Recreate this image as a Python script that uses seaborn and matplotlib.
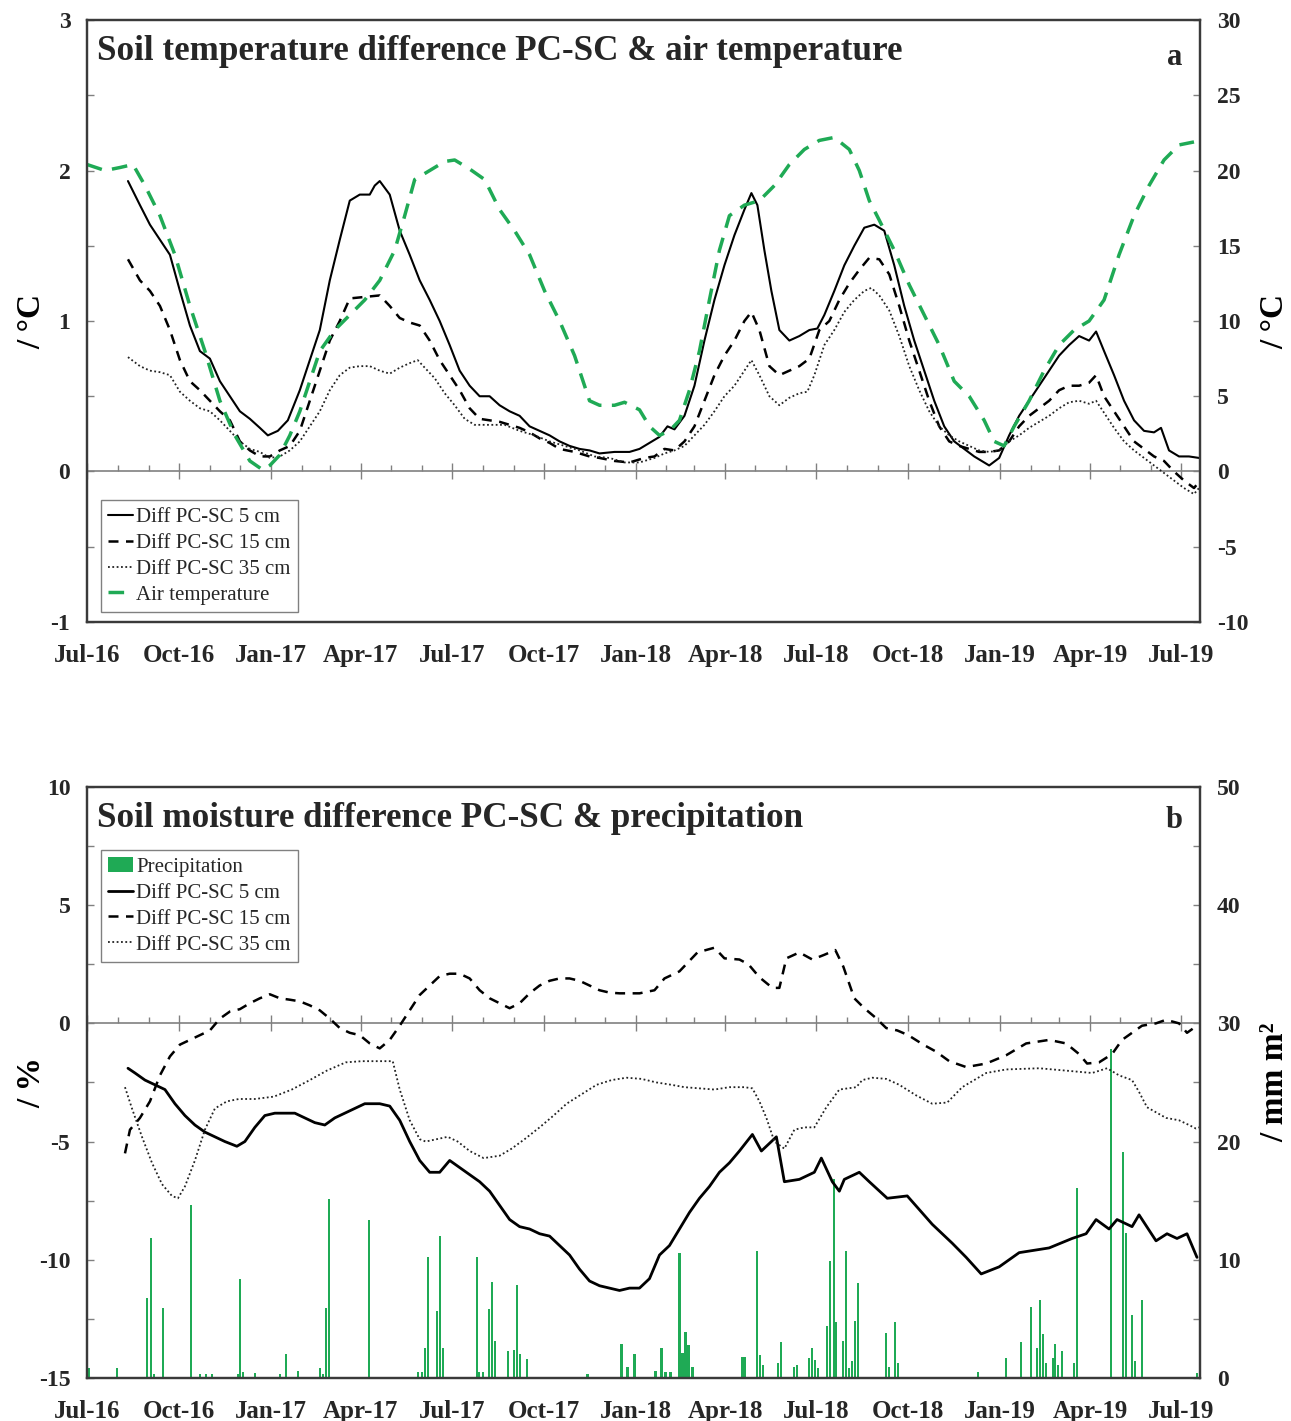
import pandas as pd
import matplotlib
matplotlib.use('Agg')
import matplotlib.pyplot as plt
import matplotlib.dates as mdates
from matplotlib.ticker import MultipleLocator
from matplotlib.patches import Patch
import seaborn as sns

# Data (x values are days since 1 July 2016)
start = pd.Timestamp('2016-07-01')
n_days = 1114

# Panel a: soil temperature differences (left axis, degC) and air temperature (right axis, degC)
air_days = [0, 18, 33, 46, 58, 73, 88, 103, 118, 133, 148, 163, 176, 183, 193, 203, 213, 223, 233, 248,
            263, 278, 293, 308, 318, 328, 343, 358, 368, 383, 398, 413, 428, 443, 458, 473, 488, 503, 513,
            528, 538, 553, 563, 573, 583, 593, 603, 613, 623, 633, 643, 658, 673, 688, 703, 718, 733, 748,
            763, 773, 783, 793, 808, 823, 838, 853, 868, 883, 898, 908, 918, 928, 943, 958, 973, 988, 1003,
            1018, 1033, 1048, 1063, 1078, 1093, 1108]
air_temp = [20.4, 20.0, 20.2, 20.4, 19.0, 17.0, 14.4, 11.0, 8.0, 4.7, 2.4, 0.7, 0.1, 0.4, 1.1, 2.4, 4.0, 6.0,
            8.0, 9.4, 10.4, 11.4, 12.7, 14.7, 17.0, 19.4, 20.0, 20.6, 20.7, 20.1, 19.4, 17.4, 16.0, 14.4, 12.0,
            10.0, 7.7, 4.7, 4.4, 4.4, 4.6, 4.1, 3.0, 2.4, 2.7, 3.4, 5.4, 8.0, 11.4, 14.7, 17.0, 17.7, 18.0,
            19.0, 20.4, 21.4, 22.0, 22.2, 21.4, 20.0, 18.0, 16.7, 14.7, 12.4, 10.4, 8.4, 6.0, 5.0, 3.4, 2.0,
            1.7, 3.0, 4.7, 6.7, 8.4, 9.4, 10.0, 11.4, 14.4, 17.0, 19.0, 20.7, 21.7, 21.9]

t5_days = [41, 53, 63, 73, 83, 93, 103, 113, 123, 133, 143, 153, 163, 173, 181, 191, 201, 213, 223, 233, 243,
           253, 263, 273, 283, 288, 293, 303, 313, 323, 333, 343, 353, 363, 373, 383, 393, 403, 413, 423, 433,
           443, 453, 463, 473, 483, 493, 503, 513, 528, 543, 553, 563, 573, 581, 588, 598, 608, 618, 628, 638,
           648, 658, 665, 671, 678, 685, 693, 703, 713, 723, 731, 738, 748, 758, 768, 778, 788, 798, 808, 818,
           828, 838, 848, 858, 868, 878, 888, 898, 903, 913, 923, 933, 943, 953, 963, 973, 983, 993, 1003,
           1010, 1018, 1028, 1038, 1048, 1058, 1068, 1075, 1083, 1093, 1103, 1113]
t5_diff = [1.93, 1.77, 1.64, 1.54, 1.44, 1.2, 0.97, 0.8, 0.75, 0.6, 0.5, 0.4, 0.35, 0.29, 0.24, 0.27, 0.34,
           0.54, 0.74, 0.94, 1.27, 1.54, 1.8, 1.84, 1.84, 1.9, 1.93, 1.84, 1.6, 1.44, 1.27, 1.14, 1.0, 0.84,
           0.67, 0.57, 0.5, 0.5, 0.44, 0.4, 0.37, 0.3, 0.27, 0.24, 0.2, 0.17, 0.15, 0.14, 0.12, 0.13, 0.13,
           0.15, 0.19, 0.23, 0.3, 0.28, 0.37, 0.57, 0.87, 1.14, 1.37, 1.57, 1.74, 1.85, 1.77, 1.47, 1.2, 0.94,
           0.87, 0.9, 0.94, 0.95, 1.04, 1.2, 1.37, 1.5, 1.62, 1.64, 1.6, 1.37, 1.1, 0.87, 0.67, 0.47, 0.3, 0.2,
           0.15, 0.1, 0.06, 0.04, 0.09, 0.24, 0.37, 0.47, 0.57, 0.67, 0.77, 0.84, 0.9, 0.87, 0.93, 0.8, 0.64,
           0.47, 0.34, 0.27, 0.26, 0.29, 0.14, 0.1, 0.1, 0.09]

t15_days = [41, 53, 63, 73, 83, 93, 103, 113, 123, 133, 143, 153, 163, 173, 183, 193, 203, 213, 223, 233, 243,
            253, 263, 278, 293, 303, 313, 323, 333, 343, 353, 363, 373, 383, 393, 403, 413, 423, 433, 443, 453,
            463, 473, 488, 503, 513, 528, 543, 558, 568, 578, 588, 598, 608, 618, 628, 638, 648, 658, 665, 673,
            683, 693, 703, 713, 723, 733, 743, 753, 763, 773, 783, 793, 803, 813, 823, 833, 843, 853, 863, 873,
            883, 893, 903, 913, 923, 933, 943, 953, 963, 973, 983, 993, 1003, 1010, 1018, 1028, 1038, 1048,
            1058, 1068, 1078, 1088, 1098, 1108, 1113]
t15_diff = [1.41, 1.27, 1.2, 1.1, 0.94, 0.74, 0.6, 0.54, 0.47, 0.4, 0.34, 0.2, 0.14, 0.1, 0.1, 0.14, 0.17,
            0.27, 0.47, 0.67, 0.87, 1.0, 1.15, 1.16, 1.17, 1.1, 1.02, 0.99, 0.97, 0.87, 0.74, 0.64, 0.54, 0.42,
            0.35, 0.34, 0.33, 0.31, 0.29, 0.26, 0.22, 0.19, 0.15, 0.13, 0.1, 0.09, 0.07, 0.06, 0.09, 0.1, 0.15,
            0.14, 0.2, 0.3, 0.47, 0.64, 0.77, 0.87, 1.0, 1.06, 0.94, 0.7, 0.64, 0.67, 0.7, 0.75, 0.94, 1.0, 1.14,
            1.25, 1.34, 1.42, 1.41, 1.31, 1.1, 0.87, 0.67, 0.47, 0.3, 0.2, 0.17, 0.15, 0.13, 0.13, 0.14, 0.2,
            0.3, 0.37, 0.42, 0.47, 0.54, 0.57, 0.57, 0.59, 0.64, 0.5, 0.4, 0.3, 0.2, 0.15, 0.1, 0.07, 0.0,
            -0.06, -0.11, -0.07]

t35_days = [41, 53, 63, 73, 83, 93, 103, 113, 123, 133, 143, 153, 163, 173, 183, 193, 203, 213, 223, 233, 243,
            253, 263, 273, 283, 293, 303, 313, 323, 331, 338, 348, 358, 368, 378, 388, 403, 418, 433, 448, 463,
            478, 493, 508, 523, 538, 553, 568, 578, 588, 598, 608, 618, 628, 638, 648, 658, 665, 673, 683, 693,
            703, 713, 721, 728, 738, 748, 758, 768, 778, 785, 793, 803, 813, 823, 833, 843, 853, 863, 873, 883,
            893, 903, 913, 923, 933, 943, 953, 963, 973, 983, 993, 1003, 1010, 1018, 1028, 1038, 1048, 1058,
            1068, 1078, 1088, 1098, 1108, 1113]
t35_diff = [0.76, 0.7, 0.67, 0.66, 0.64, 0.53, 0.47, 0.42, 0.4, 0.34, 0.27, 0.2, 0.15, 0.13, 0.09, 0.1, 0.14,
            0.2, 0.3, 0.4, 0.54, 0.64, 0.69, 0.7, 0.7, 0.67, 0.65, 0.69, 0.72, 0.74, 0.69, 0.62, 0.52, 0.44,
            0.35, 0.31, 0.31, 0.31, 0.27, 0.24, 0.2, 0.17, 0.14, 0.1, 0.09, 0.06, 0.06, 0.09, 0.12, 0.14, 0.17,
            0.24, 0.31, 0.4, 0.5, 0.57, 0.67, 0.74, 0.64, 0.5, 0.44, 0.49, 0.52, 0.53, 0.64, 0.84, 0.94, 1.06,
            1.14, 1.2, 1.22, 1.17, 1.07, 0.9, 0.7, 0.54, 0.4, 0.3, 0.24, 0.2, 0.17, 0.14, 0.13, 0.14, 0.2, 0.24,
            0.29, 0.33, 0.37, 0.42, 0.46, 0.47, 0.45, 0.47, 0.39, 0.29, 0.2, 0.14, 0.09, 0.04, -0.01, -0.06,
            -0.11, -0.15, -0.11]

# Panel b: soil moisture differences (left axis, %) and precipitation (right axis)
m5_days = [41, 48, 58, 68, 78, 88, 98, 108, 118, 128, 138, 150, 158, 168, 178, 188, 198, 208, 218, 228, 238,
           248, 258, 268, 278, 293, 303, 313, 323, 333, 343, 353, 363, 373, 383, 393, 403, 413, 423, 433, 443,
           453, 463, 473, 483, 493, 503, 513, 523, 533, 543, 553, 563, 573, 583, 593, 603, 613, 623, 633, 643,
           653, 666, 675, 690, 698, 713, 723, 728, 735, 746, 753, 758, 773, 783, 801, 821, 846, 866, 880, 895,
           913, 933, 963, 986, 1000, 1010, 1023, 1031, 1046, 1053, 1070, 1081, 1091, 1101, 1111]
m5_diff = [-1.9, -2.1, -2.4, -2.6, -2.8, -3.4, -3.9, -4.3, -4.6, -4.8, -5.0, -5.2, -5.0, -4.4, -3.9, -3.8, -3.8,
           -3.8, -4.0, -4.2, -4.3, -4.0, -3.8, -3.6, -3.4, -3.4, -3.5, -4.1, -5.0, -5.8, -6.3, -6.3, -5.8, -6.1,
           -6.4, -6.7, -7.1, -7.7, -8.3, -8.6, -8.7, -8.9, -9.0, -9.4, -9.8, -10.4, -10.9, -11.1, -11.2, -11.3,
           -11.2, -11.2, -10.8, -9.8, -9.4, -8.7, -8.0, -7.4, -6.9, -6.3, -5.9, -5.4, -4.7, -5.4, -4.8, -6.7,
           -6.6, -6.4, -6.3, -5.7, -6.7, -7.1, -6.6, -6.3, -6.7, -7.4, -7.3, -8.5, -9.3, -9.9, -10.6, -10.3,
           -9.7, -9.5, -9.1, -8.9, -8.3, -8.7, -8.3, -8.6, -8.1, -9.2, -8.9, -9.1, -8.9, -9.9]

m15_days = [38, 43, 53, 63, 73, 83, 93, 103, 113, 123, 133, 143, 153, 163, 173, 183, 193, 203, 213, 223, 233,
            243, 253, 263, 273, 283, 293, 303, 313, 323, 333, 343, 353, 363, 373, 383, 393, 403, 413, 423, 433,
            443, 453, 463, 473, 483, 493, 503, 513, 523, 533, 543, 553, 568, 578, 593, 611, 628, 638, 653, 662,
            673, 686, 693, 700, 713, 726, 738, 749, 757, 768, 778, 789, 800, 811, 822, 837, 850, 863, 880, 900,
            920, 940, 963, 980, 993, 1001, 1013, 1026, 1036, 1046, 1056, 1070, 1080, 1093, 1101, 1111]
m15_diff = [-5.5, -4.5, -4.0, -3.3, -2.2, -1.4, -0.9, -0.7, -0.5, -0.3, 0.2, 0.5, 0.6, 0.85, 1.06, 1.23, 1.06,
            1.0, 0.93, 0.76, 0.55, 0.2, -0.2, -0.4, -0.5, -0.85, -1.06, -0.7, -0.1, 0.55, 1.2, 1.6, 2.0, 2.1,
            2.1, 1.9, 1.4, 1.06, 0.85, 0.64, 0.85, 1.27, 1.6, 1.8, 1.9, 1.9, 1.8, 1.6, 1.4, 1.3, 1.27, 1.27,
            1.27, 1.4, 1.9, 2.2, 3.0, 3.2, 2.75, 2.7, 2.5, 1.95, 1.5, 1.5, 2.75, 3.0, 2.7, 2.9, 3.1, 2.4, 1.06,
            0.64, 0.25, -0.2, -0.3, -0.5, -0.9, -1.2, -1.6, -1.85, -1.7, -1.35, -0.85, -0.7, -0.85, -1.3, -1.7,
            -1.65, -1.3, -0.7, -0.4, -0.1, 0.0, 0.15, 0.0, -0.4, -0.1]

m35_days = [38, 45, 55, 65, 75, 85, 91, 98, 108, 118, 128, 140, 152, 168, 187, 205, 223, 240, 259, 275, 290,
            306, 313, 323, 333, 339, 350, 361, 371, 383, 397, 413, 425, 438, 453, 467, 480, 495, 510, 525, 540,
            555, 570, 585, 598, 613, 628, 643, 658, 666, 673, 680, 688, 698, 708, 718, 728, 740, 753, 770, 776,
            786, 800, 813, 830, 846, 861, 876, 888, 900, 920, 953, 980, 1006, 1021, 1033, 1046, 1053, 1061,
            1080, 1093, 1103, 1110, 1113]
m35_diff = [-2.7, -3.6, -4.8, -5.9, -6.8, -7.3, -7.4, -6.9, -5.8, -4.5, -3.6, -3.3, -3.2, -3.2, -3.1, -2.8,
            -2.4, -2.0, -1.65, -1.6, -1.6, -1.6, -2.8, -4.1, -4.9, -5.0, -4.9, -4.8, -5.0, -5.4, -5.7, -5.6,
            -5.3, -4.9, -4.4, -3.9, -3.4, -3.0, -2.6, -2.4, -2.3, -2.35, -2.5, -2.6, -2.7, -2.75, -2.8, -2.7,
            -2.7, -2.75, -3.3, -4.0, -5.0, -5.3, -4.5, -4.4, -4.4, -3.55, -2.8, -2.7, -2.4, -2.3, -2.35, -2.6,
            -3.05, -3.4, -3.35, -2.7, -2.4, -2.1, -1.95, -1.9, -2.0, -2.1, -1.9, -2.2, -2.4, -2.9, -3.55, -4.0,
            -4.1, -4.3, -4.45, -4.4]

rain_days = [2, 30, 60, 64, 67, 76, 104, 113, 119, 125, 151, 153, 156, 168, 193, 199, 211, 233, 236, 239, 242,
             282, 331, 335, 338, 341, 350, 353, 356, 390, 392, 396, 402, 405, 408, 421, 427, 430, 433, 440, 501,
             535, 541, 548, 569, 575, 579, 584, 593, 596, 599, 602, 606, 656, 658, 671, 674, 677, 692, 695, 708,
             711, 723, 726, 729, 732, 741, 744, 748, 750, 757, 760, 763, 766, 769, 772, 800, 803, 809, 812, 892,
             920, 935, 945, 951, 954, 957, 960, 967, 969, 972, 976, 988, 991, 1025, 1037, 1040, 1046, 1049,
             1056, 1111]
rain_mm = [0.8, 0.8, 6.8, 11.8, 0.3, 5.9, 14.6, 0.3, 0.3, 0.3, 0.3, 8.4, 0.5, 0.4, 0.3, 2.0, 0.6, 0.8, 0.3,
           5.9, 15.1, 13.4, 0.5, 0.5, 2.5, 10.2, 5.7, 12.0, 2.5, 10.2, 0.5, 0.5, 5.8, 8.1, 3.1, 2.3, 2.4, 7.9,
           2.0, 1.6, 0.3, 2.9, 0.9, 2.0, 0.6, 2.5, 0.5, 0.5, 10.6, 2.1, 3.9, 2.8, 0.9, 1.8, 1.8, 10.7, 1.9,
           1.1, 1.3, 3.0, 0.9, 1.1, 1.7, 2.5, 1.5, 0.8, 4.4, 9.9, 16.8, 4.7, 3.1, 10.7, 0.8, 1.4, 4.8, 8.0,
           3.8, 0.9, 4.7, 1.3, 0.5, 1.7, 3.0, 6.0, 2.5, 6.6, 3.7, 1.3, 1.7, 2.9, 1.1, 2.3, 1.3, 16.1, 27.8,
           19.1, 12.3, 5.3, 1.4, 6.6, 0.4]

GREEN = '#1faa55'
TICK_GREY = '#808080'
SPINE = '#3a3a3a'


def to_dates(days):
    return start + pd.to_timedelta(days, unit='D')


sns.set_theme(style='ticks')
plt.rcParams['font.family'] = ['Liberation Serif', 'DejaVu Serif']
plt.rcParams['axes.unicode_minus'] = False
plt.rcParams['legend.frameon'] = True

fig = plt.figure(figsize=(12.91, 14.21), dpi=100)
ax_a = fig.add_axes([0.0674, 0.5623, 0.8621, 0.4236])
ax_b = fig.add_axes([0.0674, 0.0303, 0.8621, 0.4159])

legend_kw = dict(fontsize=15, handlelength=1.2, handletextpad=0.15, labelspacing=0.3, borderpad=0.35,
                 borderaxespad=0, fancybox=False, edgecolor=TICK_GREY, framealpha=1)


def style_axes(ax, ax2, zero_frac):
    ax.set_xlim(start, start + pd.Timedelta(days=n_days))
    ax.xaxis.set_major_locator(mdates.MonthLocator(bymonth=(1, 4, 7, 10)))
    ax.xaxis.set_major_formatter(mdates.DateFormatter('%b-%y'))
    ax.tick_params(axis='x', length=0, pad=16, labelsize=18)
    for lab in ax.get_xticklabels():
        lab.set_fontweight('bold')
    for a in (ax, ax2):
        a.tick_params(axis='y', which='both', direction='in', length=5, width=1, color=TICK_GREY,
                      labelsize=17, pad=12)
        for lab in a.get_yticklabels():
            lab.set_fontweight('bold')
        for s in a.spines.values():
            s.set_visible(True)
            s.set_color(SPINE)
            s.set_linewidth(1.6)
        a.grid(False)
        a.set_xlabel('')
    ax.tick_params(axis='y', which='minor', labelleft=False)
    ax2.tick_params(axis='y', which='minor', labelright=False)

    # zero line with quarterly / monthly tick marks
    sec = ax.secondary_xaxis(zero_frac)
    sec.set_alignment('bottom')
    sec.xaxis.set_major_locator(mdates.MonthLocator(bymonth=(1, 4, 7, 10)))
    sec.xaxis.set_minor_locator(mdates.MonthLocator())
    sec.tick_params(which='major', direction='inout', length=12, width=1, color=TICK_GREY,
                    labelbottom=False, labeltop=False)
    sec.tick_params(which='minor', direction='in', length=4, width=1, color=TICK_GREY,
                    labelbottom=False, labeltop=False)
    sec.spines['bottom'].set_color(TICK_GREY)
    sec.spines['bottom'].set_linewidth(1.2)
    sec.spines['top'].set_visible(False)


# ---------------- Panel a ----------------
ax_a2 = ax_a.twinx()
sns.lineplot(x=to_dates(t5_days), y=t5_diff, ax=ax_a, color='black', linewidth=1.5,
             label='Diff PC-SC 5 cm')
sns.lineplot(x=to_dates(t15_days), y=t15_diff, ax=ax_a, color='black', linewidth=1.8,
             linestyle=(0, (4, 3)), label='Diff PC-SC 15 cm')
sns.lineplot(x=to_dates(t35_days), y=t35_diff, ax=ax_a, color='#222222', linewidth=1.3,
             linestyle=(0, (1, 1.4)), label='Diff PC-SC 35 cm')
sns.lineplot(x=to_dates(air_days), y=air_temp, ax=ax_a2, color=GREEN, linewidth=2.5,
             linestyle=(0, (4.5, 3)), label='Air temperature')

ax_a.set_ylim(-1, 3)
ax_a.yaxis.set_major_locator(MultipleLocator(1))
ax_a.yaxis.set_minor_locator(MultipleLocator(0.5))
ax_a2.set_ylim(-10, 30)
ax_a2.yaxis.set_major_locator(MultipleLocator(5))
style_axes(ax_a, ax_a2, 0.25)

ax_a.set_ylabel('/ °C', fontsize=24, fontweight='bold', color='black')
ax_a.yaxis.set_label_coords(-0.036, 0.5)
ax_a2.set_ylabel('/ °C', fontsize=24, fontweight='bold', rotation=90, color='black')
ax_a2.yaxis.set_label_coords(1.053, 0.5)

ax_a.text(0.009, 0.947, 'Soil temperature difference PC-SC & air temperature', transform=ax_a.transAxes,
          fontsize=25.2, fontweight='bold', va='center', ha='left')
ax_a.text(0.977, 0.938, 'a', transform=ax_a.transAxes, fontsize=22, fontweight='bold',
          va='center', ha='center')

h1, l1 = ax_a.get_legend_handles_labels()
h2, l2 = ax_a2.get_legend_handles_labels()
if ax_a.get_legend() is not None:
    ax_a.get_legend().remove()
ax_a2.legend(h1 + h2, l1 + l2, loc='lower left', bbox_to_anchor=(0.0126, 0.0166), **legend_kw)
ax_a2.get_legend().get_frame().set_linewidth(1)

# ---------------- Panel b ----------------
ax_b2 = ax_b.twinx()
ax_b2.bar(to_dates(rain_days), rain_mm, width=2.2, color=GREEN, linewidth=0)
ax_b.set_zorder(ax_b2.get_zorder() + 1)
ax_b.patch.set_visible(False)

sns.lineplot(x=to_dates(m5_days), y=m5_diff, ax=ax_b, color='black', linewidth=2.0,
             label='Diff PC-SC 5 cm')
sns.lineplot(x=to_dates(m15_days), y=m15_diff, ax=ax_b, color='black', linewidth=1.8,
             linestyle=(0, (4, 3)), label='Diff PC-SC 15 cm')
sns.lineplot(x=to_dates(m35_days), y=m35_diff, ax=ax_b, color='#222222', linewidth=1.3,
             linestyle=(0, (1, 1.4)), label='Diff PC-SC 35 cm')

ax_b.set_ylim(-15, 10)
ax_b.yaxis.set_major_locator(MultipleLocator(5))
ax_b.yaxis.set_minor_locator(MultipleLocator(2.5))
ax_b2.set_ylim(0, 50)
ax_b2.yaxis.set_major_locator(MultipleLocator(10))
ax_b2.yaxis.set_minor_locator(MultipleLocator(5))
style_axes(ax_b, ax_b2, 0.6)

ax_b.set_ylabel('/ %', fontsize=24, fontweight='bold', color='black')
ax_b.yaxis.set_label_coords(-0.036, 0.5)
ax_b2.set_ylabel('/ mm m²', fontsize=24, fontweight='bold', rotation=90, color='black')
ax_b2.yaxis.set_label_coords(1.053, 0.5)

ax_b.text(0.009, 0.946, 'Soil moisture difference PC-SC & precipitation', transform=ax_b.transAxes,
          fontsize=25.2, fontweight='bold', va='center', ha='left')
ax_b.text(0.977, 0.944, 'b', transform=ax_b.transAxes, fontsize=22, fontweight='bold',
          va='center', ha='center')

h3, l3 = ax_b.get_legend_handles_labels()
rain_handle = Patch(facecolor=GREEN, edgecolor='none')
ax_b.legend([rain_handle] + h3, ['Precipitation'] + l3, loc='upper left', bbox_to_anchor=(0.0126, 0.893),
            **legend_kw)
ax_b.get_legend().get_frame().set_linewidth(1)

fig.savefig('out.png', dpi=100)
